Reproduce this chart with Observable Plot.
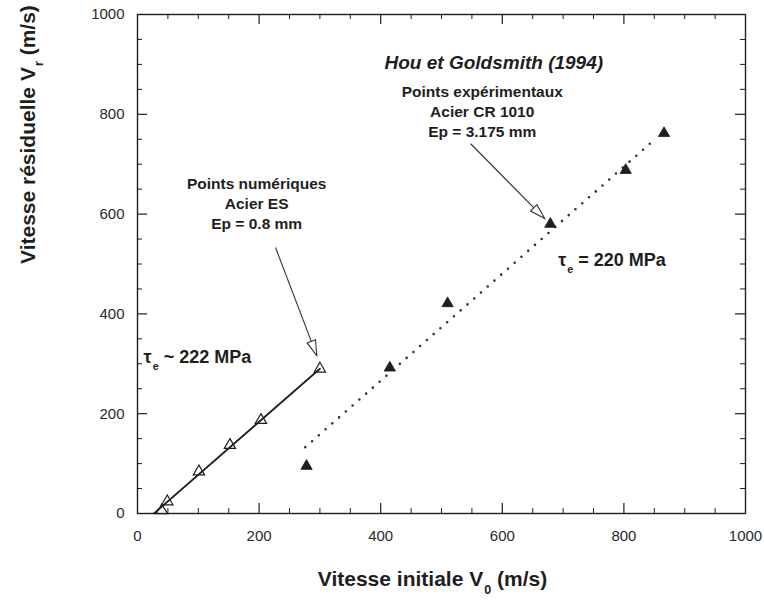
<!DOCTYPE html>
<html>
<head>
<meta charset="utf-8">
<script src="https://cdn.jsdelivr.net/npm/d3@7"></script>
<script src="https://cdn.jsdelivr.net/npm/@observablehq/plot@0.6"></script>
<style>
  html, body { margin: 0; padding: 0; background: #fff; }
  #chart { width: 764px; height: 607px; }
</style>
</head>
<body>
<div id="chart"></div>
<script>
// ---- Data ----
// Numerical points (open triangles) : Acier ES, Ep = 0.8 mm
const numV0 = [40, 49, 101, 152, 203, 300];
const numVr = [6, 24, 84, 137, 187, 290];
// Solid fitted line through numerical points
const numLineV0 = [27, 300];
const numLineVr = [0, 290];
// Experimental points (filled triangles) : Hou et Goldsmith (1994)
const expV0 = [278, 415, 510, 679, 803, 866];
const expVr = [95, 292, 421, 580, 688, 762];
// Dotted fitted line through experimental points
const expLineV0 = [276, 852];
const expLineVr = [133, 751];
// Axis ticks
const majorTicks = [0, 200, 400, 600, 800, 1000];
const minorTicks = [50, 100, 150, 250, 300, 350, 450, 500, 550, 650, 700, 750, 850, 900, 950];
// Axis titles
const xTitle = "Vitesse initiale V0 (m/s)";
const yTitle = "Vitesse résiduelle Vr (m/s)";
// Annotations
const noteText = ["Points numériques\nAcier ES\nEp = 0.8 mm", "Points expérimentaux\nAcier CR 1010\nEp = 3.175 mm"];
const noteX = [196, 567];
const noteY = [623, 808];
const sourceText = "Hou et Goldsmith (1994)";
const sourceX = 586;
const sourceY = 902;
const tauText = ["τe ~ 222 MPa", "τe = 220 MPa"];
const tauX = [10, 692];
const tauY = [313, 507];
// Arrows: start point and arrow-head centre, with head direction (degrees)
const arrowX1 = [227, 548];
const arrowY1 = [533, 741];
const arrowX2 = [289, 658];
const arrowY2 = [335, 605];
const arrowAngle = [159, 134];

// ---- Layout ----
const W = 764, H = 607;
const mL = 137, mR = 19, mT = 14, mB = 94;
const frameW = W - mL - mR, frameH = H - mT - mB;
const ink = "#1e1e1e";
const font = "'Liberation Sans', Arial, Helvetica, sans-serif";

const numPts = numV0.map((v, i) => ({x: v, y: numVr[i]}));
const numLine = numLineV0.map((v, i) => ({x: v, y: numLineVr[i]}));
const expPts = expV0.map((v, i) => ({x: v, y: expVr[i]}));
const expLine = expLineV0.map((v, i) => ({x: v, y: expLineVr[i]}));
const notes = noteText.map((t, i) => ({t, x: noteX[i], y: noteY[i]}));
const taus = tauText.map((t, i) => ({t, x: tauX[i], y: tauY[i]}));
const arrows = arrowX1.map((v, i) => ({x1: v, y1: arrowY1[i], x2: arrowX2[i], y2: arrowY2[i], a: arrowAngle[i]}));

// slender arrow-head symbol (points up before rotation)
const headSymbol = {
  draw(ctx, size) {
    const r = Math.sqrt(size / Math.PI);
    ctx.moveTo(0, -2.2 * r);
    ctx.lineTo(1.0 * r, 1.2 * r);
    ctx.lineTo(-1.0 * r, 1.2 * r);
    ctx.closePath();
  }
};

const inward = (ticks, len, sw) => [
  Plot.tickX(ticks, {x: d => d, insetTop: frameH - len, stroke: ink, strokeWidth: sw}),
  Plot.tickX(ticks, {x: d => d, insetBottom: frameH - len, stroke: ink, strokeWidth: sw}),
  Plot.tickY(ticks, {y: d => d, insetRight: frameW - len, stroke: ink, strokeWidth: sw}),
  Plot.tickY(ticks, {y: d => d, insetLeft: frameW - len, stroke: ink, strokeWidth: sw})
];

const chart = Plot.plot({
  width: W,
  height: H,
  marginLeft: mL,
  marginRight: mR,
  marginTop: mT,
  marginBottom: mB,
  style: {fontFamily: font, background: "#fff", color: ink, overflow: "visible"},
  x: {domain: [0, 1000]},
  y: {domain: [0, 1000]},
  marks: [
    Plot.axisX(majorTicks, {tickSize: 0, tickPadding: 17, fontSize: 15, label: null, fill: "#2a2a2a", tickFormat: d => String(d)}),
    Plot.axisY(majorTicks, {tickSize: 0, tickPadding: 13, fontSize: 15, label: null, fill: "#2a2a2a", tickFormat: d => String(d)}),
    ...inward(majorTicks.slice(1, -1), 10, 1.2),
    ...inward(minorTicks, 5, 1),
    Plot.frame({stroke: ink, strokeWidth: 1.4}),
    // lines
    Plot.line(numLine, {x: "x", y: "y", stroke: ink, strokeWidth: 1.8}),
    Plot.line(expLine, {x: "x", y: "y", stroke: "#333", strokeWidth: 2.6, strokeDasharray: "0,9", strokeLinecap: "round"}),
    // points
    Plot.dot(numPts, {x: "x", y: "y", symbol: "triangle", r: 4.2, fill: "none", stroke: ink, strokeWidth: 1.2}),
    Plot.dot(expPts, {x: "x", y: "y", symbol: "triangle", r: 4.2, fill: ink, stroke: ink, strokeWidth: 0.8}),
    // arrows
    Plot.link(arrows, {x1: "x1", y1: "y1", x2: "x2", y2: "y2", stroke: "#333", strokeWidth: 1.1}),
    Plot.dot(arrows, {x: "x2", y: "y2", rotate: "a", symbol: headSymbol, r: 4.5, fill: "#fff", stroke: "#333", strokeWidth: 1.1}),
    // texts
    Plot.text(notes, {x: "x", y: "y", text: "t", fontSize: 15.5, fontWeight: "bold", lineHeight: 1.3, fill: ink, textAnchor: "middle"}),
    Plot.text([sourceText], {x: () => sourceX, y: () => sourceY, text: d => d, fontSize: 19, fontWeight: "bold", fontStyle: "italic", fill: ink}),
    Plot.text(taus, {x: "x", y: "y", text: "t", fontSize: 18, fontWeight: "bold", textAnchor: "start", fill: ink}),
    Plot.text([xTitle], {text: d => d, frameAnchor: "bottom", dx: -9, dy: 72, fontSize: 21, fontWeight: "bold", fill: ink}),
    Plot.text([yTitle], {text: d => d, frameAnchor: "left", dx: -109, rotate: -90, fontSize: 21, fontWeight: "bold", fill: ink})
  ]
});

document.getElementById("chart").appendChild(chart);

// subscripts as real tspans
const NS = "http://www.w3.org/2000/svg";
const subs = [
  [xTitle, "Vitesse initiale V", "0", " (m/s)", 8],
  [yTitle, "Vitesse résiduelle V", "r", " (m/s)", 8],
  [tauText[0], "τ", "e", " ~ 222 MPa", 7],
  [tauText[1], "τ", "e", " = 220 MPa", 7]
];
chart.querySelectorAll("text").forEach(t => {
  const s = subs.find(d => d[0] === t.textContent);
  if (!s) return;
  t.textContent = "";
  const a = document.createElementNS(NS, "tspan"); a.textContent = s[1];
  const b = document.createElementNS(NS, "tspan"); b.textContent = s[2];
  b.setAttribute("dy", s[4]); b.setAttribute("font-size", "0.6em"); b.setAttribute("dx", "1");
  const c = document.createElementNS(NS, "tspan"); c.textContent = s[3];
  c.setAttribute("dy", -s[4]);
  t.append(a, b, c);
});
</script>
</body>
</html>
